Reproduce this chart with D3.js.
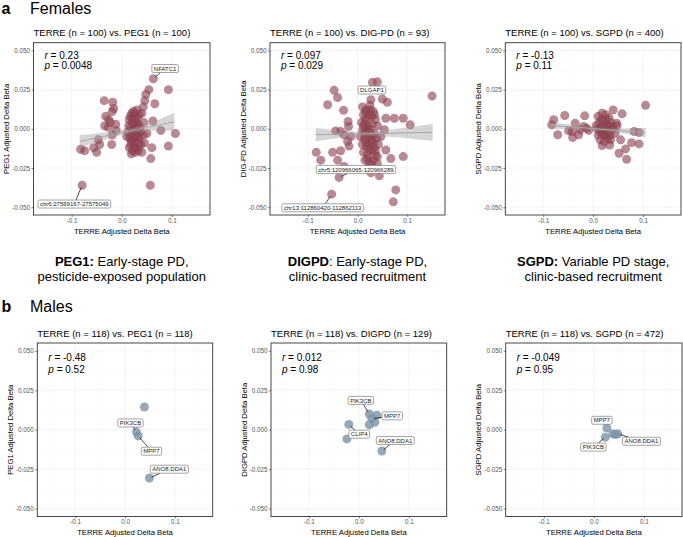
<!DOCTYPE html>
<html lang="en">
<head>
<meta charset="UTF-8">
<title>TERRE replication scatter plots</title>
<script src="https://d3js.org/d3.v7.min.js"></script>
<style>
  body { margin: 0; background: #fff; }
  text { font-family: "Liberation Sans", Arial, sans-serif; }
  .grid-major { stroke: #ebebeb; stroke-width: 0.6; }
  .grid-minor { stroke: #f4f4f4; stroke-width: 0.4; }
  .axis text { fill: #555; font-size: 6.3px; }
  .axis line { stroke: #333; stroke-width: 0.6; }
  .axis path { display: none; }
</style>
</head>
<body>
<script>
// ---- data ----
var xTicks = [-0.1, 0, 0.1];
var yTicks = [-0.05, -0.025, 0, 0.025, 0.05];
var xMinor = [-0.15, -0.05, 0.05, 0.15];
var yMinor = [-0.0375, -0.0125, 0.0125, 0.0375];

var panelTitles = [
  "TERRE (n = 100) vs. PEG1 (n = 100)",
  "TERRE (n = 100) vs. DIG-PD (n = 93)",
  "TERRE (n = 100) vs. SGPD (n = 400)",
  "TERRE (n = 118) vs. PEG1 (n = 118)",
  "TERRE (n = 118) vs. DIGPD (n = 129)",
  "TERRE (n = 118) vs. SGPD (n = 472)"
];
var yTitles = [
  "PEG1 Adjusted Delta Beta", "DIG-PD Adjusted Delta Beta", "SGPD Adjusted Delta Beta",
  "PEG1 Adjusted Delta Beta", "DIGPD Adjusted Delta Beta", "SGPD Adjusted Delta Beta"
];
var xTitle = "TERRE Adjusted Delta Beta";
var rValues = ["0.23", "0.097", "-0.13", "-0.48", "0.012", "-0.049"];
var pValues = ["0.0048", "0.029", "0.11", "0.52", "0.98", "0.95"];

var captionBold = ["PEG1:", "DIGPD", "SGPD:"];
var captionRest = [" Early-stage PD,", ": Early-stage PD,", " Variable PD stage,"];
var captionLine2 = ["pesticide-exposed population", "clinic-based recruitment", "clinic-based recruitment"];

var femalePEG1 = [
  [0.063, 0.032], [0.054, 0.025], [0.048, 0.022], [0.093, 0.025], [0.046, 0.018], [0.066, 0.016],
  [0.043, 0.014], [0.040, 0.010], [0.062, 0.005], [0.078, -0.001], [0.107, -0.003], [0.093, -0.011],
  [0.060, -0.012], [0.058, -0.019], [0.057, -0.036], [0.045, -0.009], [0.043, -0.004],
  [-0.035, 0.018], [-0.018, 0.017], [-0.016, 0.013], [-0.019, 0.011], [-0.032, 0.008], [-0.026, 0.006],
  [-0.023, 0.004], [-0.012, 0.003], [-0.034, 0.002], [-0.027, 0.001], [-0.011, -0.001], [-0.019, -0.004],
  [-0.047, -0.007], [-0.020, -0.010], [-0.044, -0.010], [-0.056, -0.012], [-0.082, -0.013], [-0.074, -0.014],
  [-0.050, -0.015], [-0.079, -0.036],
  [0.020, 0.010], [0.025, 0.008], [0.030, 0.012], [0.035, 0.009], [0.015, 0.006], [0.022, 0.004],
  [0.028, 0.005], [0.033, 0.003], [0.018, 0.001], [0.024, 0.000], [0.030, -0.001], [0.036, 0.001],
  [0.012, -0.002], [0.020, -0.003], [0.026, -0.004], [0.032, -0.005], [0.016, -0.006], [0.022, -0.007],
  [0.028, -0.008], [0.035, -0.006], [0.010, -0.005], [0.018, -0.010], [0.024, -0.011], [0.030, -0.012],
  [0.038, -0.010], [0.021, -0.014], [0.027, -0.015], [0.033, -0.014], [0.015, -0.012], [0.040, -0.015],
  [0.025, 0.002], [0.020, -0.008], [0.044, 0.004], [0.050, -0.003],
  [0.017, 0.008], [0.027, 0.010], [0.023, -0.001], [0.029, 0.002], [0.019, -0.005], [0.025, -0.006],
  [0.031, -0.003], [0.021, 0.006], [0.014, 0.002], [0.034, -0.009], [0.026, -0.013], [0.019, -0.016],
  [0.031, 0.007], [0.037, -0.002], [0.023, 0.011]
];
var femaleDIGPD = [
  [0.040, 0.030], [0.030, 0.0297], [-0.047, 0.0246], [-0.040, 0.020], [0.027, 0.0186], [0.050, 0.019],
  [0.060, 0.017], [0.150, 0.021], [-0.060, 0.0154], [-0.028, 0.0118], [-0.019, 0.0047], [-0.018, 0.0015],
  [-0.044, -0.0013], [-0.034, -0.0017], [-0.027, -0.0038], [-0.013, -0.005], [-0.020, -0.008],
  [-0.017, -0.011], [-0.034, -0.014], [-0.050, -0.015], [-0.083, -0.015], [-0.074, -0.020], [-0.040, -0.020],
  [-0.027, -0.024], [-0.037, -0.031], [-0.052, -0.0417], [0.074, 0.0068], [0.092, 0.0068], [0.106, 0.0026],
  [0.057, 0.0068], [0.092, -0.0177], [0.057, -0.0135], [0.067, -0.019], [0.040, -0.0177], [0.044, -0.030],
  [0.027, -0.028], [0.077, -0.039], [0.072, -0.0466], [0.047, -0.005], [0.054, -0.0006],
  [0.010, 0.014], [0.018, 0.012], [0.025, 0.015], [0.032, 0.011], [0.012, 0.009], [0.020, 0.007],
  [0.028, 0.008], [0.036, 0.006], [0.008, 0.004], [0.015, 0.003], [0.022, 0.002], [0.030, 0.003],
  [0.040, 0.002], [0.010, -0.001], [0.018, -0.002], [0.026, -0.001], [0.034, -0.003], [0.006, -0.005],
  [0.014, -0.006], [0.022, -0.005], [0.030, -0.007], [0.038, -0.006], [0.010, -0.010], [0.018, -0.011],
  [0.026, -0.009], [0.034, -0.012], [0.042, -0.010], [0.012, -0.015], [0.020, -0.016], [0.028, -0.014],
  [0.036, -0.017], [0.015, -0.020], [0.024, -0.021], [0.032, -0.020], [0.040, -0.022], [0.020, -0.025],
  [0.030, -0.026], [0.045, -0.026], [0.016, 0.011], [0.024, -0.003],
  [0.016, 0.006], [0.024, 0.009], [0.020, 0.000], [0.028, -0.004], [0.016, -0.008], [0.024, -0.013],
  [0.032, -0.009], [0.020, -0.019], [0.028, -0.023], [0.012, 0.002], [0.034, 0.009], [0.026, 0.012],
  [0.014, -0.003], [0.022, -0.010], [0.036, -0.014]
];
var femaleSGPD = [
  [0.105, 0.015], [0.040, 0.012], [0.058, 0.0096], [-0.017, 0.0083], [-0.057, 0.0085], [-0.079, 0.0058],
  [-0.083, 0.0026], [-0.071, -0.0038], [-0.049, -0.0013], [-0.036, 0.0036], [-0.041, -0.0056],
  [-0.029, -0.0038], [-0.019, 0.0015], [-0.013, 0.0004], [-0.026, -0.0006], [-0.009, -0.001],
  [-0.042, -0.0017], [0.082, -0.0017], [0.092, -0.0024], [0.092, -0.0096], [0.077, -0.0088],
  [0.052, -0.0156], [0.065, -0.0128], [0.067, -0.0194], [0.055, -0.007], [0.047, 0.0036], [0.038, 0.0015],
  [0.018, -0.0107], [0.033, -0.0103], [0.035, -0.007],
  [0.010, 0.008], [0.018, 0.010], [0.025, 0.009], [0.032, 0.007], [0.012, 0.004], [0.020, 0.005],
  [0.028, 0.003], [0.036, 0.004], [0.008, 0.000], [0.016, 0.001], [0.024, 0.000], [0.032, -0.001],
  [0.040, 0.000], [0.010, -0.004], [0.018, -0.003], [0.026, -0.005], [0.034, -0.004], [0.014, -0.007],
  [0.022, -0.008], [0.030, -0.006], [0.006, 0.002], [0.044, -0.003], [0.048, 0.002],
  [0.016, 0.006], [0.022, 0.002], [0.028, -0.002], [0.020, -0.002], [0.026, 0.006], [0.030, 0.002],
  [0.014, -0.002], [0.024, -0.004]
];
var malePEG1 = [[0.039, 0.0144], [0.023, -0.0015], [0.0265, -0.0039], [0.049, -0.0306]];
var maleDIGPD = [[0.021, 0.010], [0.036, 0.0092], [0.026, 0.007], [0.021, 0.0032], [0.032, 0.0047],
  [-0.020, 0.0034], [-0.024, -0.0058], [0.046, -0.0135]];
var maleSGPD = [[0.026, 0.0011], [0.023, -0.0047], [0.038, -0.0026], [0.048, -0.0026], [0.043, -0.003]];

// labels: [text, label x, label y, point x, point y]
var femalePEG1Labels = [["NFATC1", 0.0865, 0.0385, 0.063, 0.032],
  ["chr6:27569167-27575049", -0.0946, -0.048, -0.079, -0.036]];
var femaleDIGPDLabels = [["DLGAP1", 0.029, 0.0248, 0.030, 0.0297],
  ["chr5:120966065-120966289", -0.003, -0.0259, -0.037, -0.031],
  ["chr13:112860420-112862113", -0.070, -0.0504, -0.052, -0.0417]];
var femaleSGPDLabels = [];
var malePEG1Labels = [["PIK3CB", 0.011, 0.0043, 0.023, -0.0015],
  ["MPP7", 0.053, -0.0136, 0.0265, -0.0039],
  ["ANO8,DDA1", 0.089, -0.025, 0.049, -0.0306]];
var maleDIGPDLabels = [["PIK3CB", 0.004, 0.0186, 0.021, 0.010],
  ["MPP7", 0.067, 0.0088, 0.026, 0.007],
  ["CLIP4", 0.0007, -0.0028, -0.020, 0.0034],
  ["ANO8,DDA1", 0.073, -0.0068, 0.046, -0.0135]];
var maleSGPDLabels = [["MPP7", 0.016, 0.006, 0.026, 0.0011],
  ["PIK3CB", -0.001, -0.011, 0.023, -0.0047],
  ["ANO8,DDA1", 0.095, -0.0073, 0.048, -0.0026]];

// linear fits: [x, fitted y, half width of CI]
var femalePEG1Fit = [[-0.084, -0.0080, 0.0040], [0.022, -0.0010, 0.0015], [0.105, 0.0045, 0.0058]];
var femaleDIGPDFit = [[-0.084, -0.0038, 0.0043], [0.020, -0.0031, 0.0014], [0.151, -0.0022, 0.0055]];
var femaleSGPDFit = [[-0.083, 0.0022, 0.0022], [0.015, -0.0003, 0.0009], [0.105, -0.0024, 0.0030]];

// ---- layout ----
var W = 683, H = 537;
var xDomain = [-0.176, 0.176], yDomain = [-0.055, 0.055];
var panels = [
  { pts: femalePEG1, labels: femalePEG1Labels, fit: femalePEG1Fit, sex: "f", x0: 33.5, x1: 210, y0: 42.7, y1: 215 },
  { pts: femaleDIGPD, labels: femaleDIGPDLabels, fit: femaleDIGPDFit, sex: "f", x0: 270, x1: 445, y0: 42.7, y1: 215 },
  { pts: femaleSGPD, labels: femaleSGPDLabels, fit: femaleSGPDFit, sex: "f", x0: 505.3, x1: 681, y0: 42.7, y1: 215 },
  { pts: malePEG1, labels: malePEG1Labels, fit: null, sex: "m", x0: 37.3, x1: 212.7, y0: 343, y1: 516.5 },
  { pts: maleDIGPD, labels: maleDIGPDLabels, fit: null, sex: "m", x0: 271, x1: 446.7, y0: 343, y1: 516.5 },
  { pts: maleSGPD, labels: maleSGPDLabels, fit: null, sex: "m", x0: 505.7, x1: 682, y0: 343, y1: 516.5 }
];
var fillColor = { f: "#8e4250", m: "#7b93a8" };
var fillOpacity = { f: 0.62, m: 0.8 };

var fmt = function (f) { return function (d) { return d3.format(f)(d).replace("\u2212", "-"); }; };

var svg = d3.select("body").append("svg")
  .attr("width", W).attr("height", H);

// section headings
function heading(y, letter, word) {
  svg.append("text").attr("x", 1.5).attr("y", y)
    .style("font-size", "16px").style("font-weight", "bold").text(letter);
  svg.append("text").attr("x", 30).attr("y", y)
    .style("font-size", "16px").text(word);
}
heading(14, "a", "Females");
heading(312, "b", "Males");

panels.forEach(function (p, i) {
  var x = d3.scaleLinear().domain(xDomain).range([p.x0, p.x1]);
  var y = d3.scaleLinear().domain(yDomain).range([p.y1, p.y0]);
  var g = svg.append("g");

  var clipId = "clip" + i;
  g.append("clipPath").attr("id", clipId).append("rect")
    .attr("x", p.x0).attr("y", p.y0).attr("width", p.x1 - p.x0).attr("height", p.y1 - p.y0);

  // grid
  g.selectAll(".xm").data(xMinor).enter().append("line").attr("class", "grid-minor")
    .attr("x1", function (d) { return x(d); }).attr("x2", function (d) { return x(d); })
    .attr("y1", p.y0).attr("y2", p.y1);
  g.selectAll(".ym").data(yMinor).enter().append("line").attr("class", "grid-minor")
    .attr("y1", function (d) { return y(d); }).attr("y2", function (d) { return y(d); })
    .attr("x1", p.x0).attr("x2", p.x1);
  g.selectAll(".xg").data(xTicks).enter().append("line").attr("class", "grid-major")
    .attr("x1", function (d) { return x(d); }).attr("x2", function (d) { return x(d); })
    .attr("y1", p.y0).attr("y2", p.y1);
  g.selectAll(".yg").data(yTicks).enter().append("line").attr("class", "grid-major")
    .attr("y1", function (d) { return y(d); }).attr("y2", function (d) { return y(d); })
    .attr("x1", p.x0).attr("x2", p.x1);

  var plot = g.append("g").attr("clip-path", "url(#" + clipId + ")");

  // points
  plot.selectAll("circle").data(p.pts).enter().append("circle")
    .attr("cx", function (d) { return x(d[0]); })
    .attr("cy", function (d) { return y(d[1]); })
    .attr("r", 4.5)
    .style("fill", fillColor[p.sex])
    .style("fill-opacity", fillOpacity[p.sex]);

  // fit ribbon + line
  if (p.fit) {
    var area = d3.area()
      .x(function (d) { return x(d[0]); })
      .y0(function (d) { return y(d[1] - d[2]); })
      .y1(function (d) { return y(d[1] + d[2]); })
      .curve(d3.curveNatural);
    plot.append("path").attr("d", area(p.fit))
      .style("fill", "#999").style("fill-opacity", 0.4);
    var ends = [p.fit[0], p.fit[p.fit.length - 1]];
    plot.append("path")
      .attr("d", d3.line().x(function (d) { return x(d[0]); }).y(function (d) { return y(d[1]); })(ends))
      .style("fill", "none").style("stroke", "#a6a6a6").style("stroke-width", 1);
  }

  // repel-style labels
  p.labels.forEach(function (l) {
    var lx = x(l[1]), ly = y(l[2]), px = x(l[3]), py = y(l[4]);
    var lg = plot.append("g");
    var seg = lg.append("line");
    var rect = lg.append("rect");
    var t = lg.append("text").attr("x", lx).attr("y", ly + 2.1)
      .attr("text-anchor", "middle").style("font-size", "6px").style("fill", "#222").text(l[0]);
    var w = t.node().getComputedTextLength() + 4, h = 8;
    rect.attr("x", lx - w / 2).attr("y", ly - h / 2).attr("width", w).attr("height", h)
      .attr("rx", 1.5).style("fill", "#fff").style("stroke", "#666").style("stroke-width", 0.6);
    var dx = px - lx, dy = py - ly;
    var tt = Math.min(Math.abs(dx) > 0 ? (w / 2) / Math.abs(dx) : Infinity,
                      Math.abs(dy) > 0 ? (h / 2) / Math.abs(dy) : Infinity);
    var sx = lx + dx * tt, sy = ly + dy * tt;
    var len = Math.sqrt(dx * dx + dy * dy);
    var ex = px - dx / len * 2.5, ey = py - dy / len * 2.5;
    var segLen = Math.sqrt((ex - sx) * (ex - sx) + (ey - sy) * (ey - sy));
    if (tt < 1 && segLen > 3) {
      seg.attr("x1", sx).attr("y1", sy).attr("x2", ex).attr("y2", ey)
        .style("stroke", "#000").style("stroke-width", 0.7);
    }
  });

  // border
  g.append("rect").attr("x", p.x0).attr("y", p.y0)
    .attr("width", p.x1 - p.x0).attr("height", p.y1 - p.y0)
    .style("fill", "none").style("stroke", "#333").style("stroke-width", 0.9);

  // axes
  g.append("g").attr("class", "axis")
    .attr("transform", "translate(0," + p.y1 + ")")
    .call(d3.axisBottom(x).tickValues(xTicks).tickFormat(fmt(".1f")).tickSize(2).tickPadding(1.5));
  g.append("g").attr("class", "axis")
    .attr("transform", "translate(" + p.x0 + ",0)")
    .call(d3.axisLeft(y).tickValues(yTicks).tickFormat(fmt(".3f")).tickSize(2).tickPadding(1.5));

  // titles
  g.append("text").attr("x", p.x0).attr("y", p.y0 - 6.5)
    .style("font-size", "9.5px").text(panelTitles[i]);
  g.append("text").attr("x", (p.x0 + p.x1) / 2).attr("y", p.y1 + 18.5)
    .attr("text-anchor", "middle").style("font-size", "7.7px").text(xTitle);
  g.append("text")
    .attr("transform", "translate(" + (p.x0 - 24.5) + "," + ((p.y0 + p.y1) / 2) + ") rotate(-90)")
    .attr("text-anchor", "middle").style("font-size", "7.7px").text(yTitles[i]);

  // correlation annotation
  var top = i < 3 ? [16, 26.5] : [18, 30];
  var rt = g.append("text").attr("x", p.x0 + 11).attr("y", p.y0 + top[0]).style("font-size", "10px");
  rt.append("tspan").style("font-style", "italic").text("r");
  rt.append("tspan").text(" = " + rValues[i]);
  var pt = g.append("text").attr("x", p.x0 + 11).attr("y", p.y0 + top[1]).style("font-size", "10px");
  pt.append("tspan").style("font-style", "italic").text("p");
  pt.append("tspan").text(" = " + pValues[i]);

  // cohort captions under the female row
  if (i < 3) {
    var cx = (p.x0 + p.x1) / 2;
    var c1 = svg.append("text").attr("x", cx).attr("y", 266).attr("text-anchor", "middle")
      .style("font-size", "13px");
    c1.append("tspan").style("font-weight", "bold").text(captionBold[i]);
    c1.append("tspan").text(captionRest[i]);
    svg.append("text").attr("x", cx).attr("y", 280.5).attr("text-anchor", "middle")
      .style("font-size", "13px").text(captionLine2[i]);
  }
});
</script>
</body>
</html>
